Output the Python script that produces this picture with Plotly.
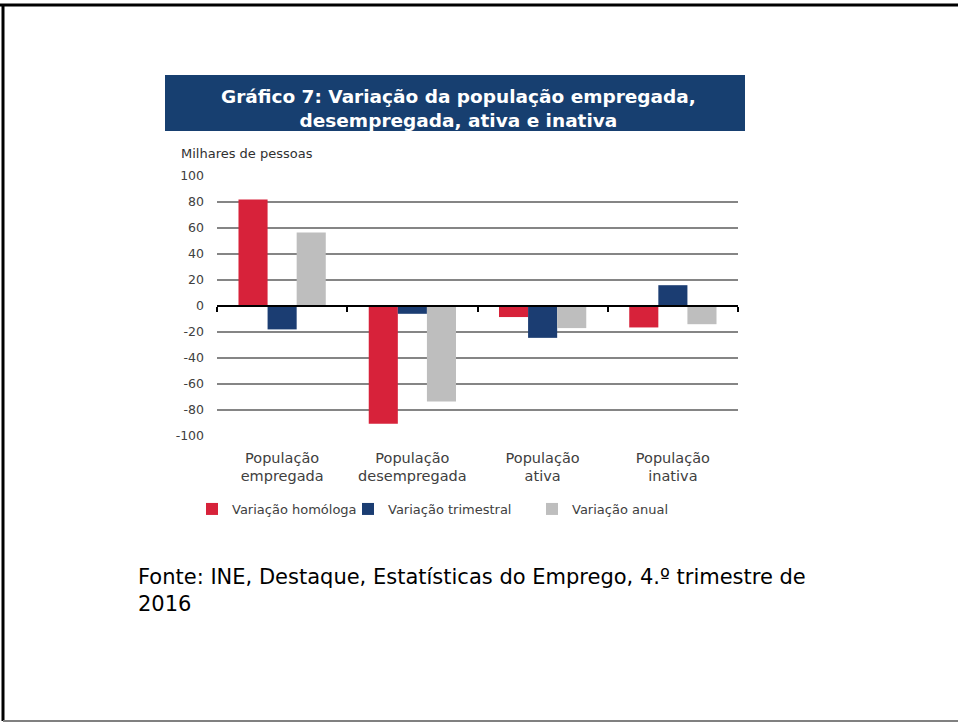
import plotly.graph_objects as go

categories = ["População<br>empregada", "População<br>desempregada", "População<br>ativa", "População<br>inativa"]
series_names = ["Variação homóloga", "Variação trimestral", "Variação anual"]
homologa = [82, -90.5, -8.5, -16.5]
trimestral = [-18, -6, -24.5, 16]
anual = [56.5, -73.5, -17, -14]
y_ticks = [100, 80, 60, 40, 20, 0, -20, -40, -60, -80, -100]
y_tick_labels = ["100", "80", "60", "40", "20", "0", "-20", "-40", "-60", "-80", "-100"]

colors = ["#d7223a", "#1b3d72", "#bebebe"]

W, H = 958, 723
L, R, T, B = 217, 738, 176, 436  # plot area in px

def px(x):
    return (x - L) / (R - L)

def py(y):
    return (B - y) / (B - T)

legend_ids = ["legend", "legend2", "legend3"]
legend_text_x = [232, 388, 572]

fig = go.Figure()
for name, vals, c, lg in zip(series_names, [homologa, trimestral, anual], colors, legend_ids):
    fig.add_trace(go.Bar(x=categories, y=vals, name=name, marker=dict(color=c, line=dict(width=0)),
                         xaxis="x", yaxis="y", legend=lg))

# helper trace for the zero axis with boundary ticks
fig.add_trace(go.Scatter(x=categories, y=[0] * len(categories), mode="lines", line=dict(width=0),
                         showlegend=False, hoverinfo="skip", xaxis="x2", yaxis="y"))

font_main = "DejaVu Sans, Verdana, sans-serif"

legend_style = dict(orientation="h", yanchor="middle", xanchor="left", y=py(509),
                    font=dict(size=13, color="#404040"), itemwidth=30,
                    bgcolor="rgba(0,0,0,0)")

fig.update_layout(
    width=W, height=H,
    margin=dict(l=L, r=W - R, t=T, b=H - B, pad=0),
    paper_bgcolor="white", plot_bgcolor="white",
    barmode="group", bargap=0.33, bargroupgap=0,
    font=dict(family=font_main, size=13, color="#404040"),
    xaxis=dict(type="category", categoryorder="array", categoryarray=categories,
               showgrid=False, showline=False, zeroline=False, ticks="",
               tickfont=dict(size=14.5, color="#404040"), ticklabelstandoff=11),
    xaxis2=dict(type="category", categoryorder="array", categoryarray=categories,
                overlaying="x", matches="x", anchor="free", position=py(B - (B - T) / 2),
                showline=True, linecolor="black", linewidth=1.5,
                ticks="outside", tickson="boundaries", ticklen=5, tickwidth=1.5, tickcolor="black",
                showticklabels=False, showgrid=False, zeroline=False),
    yaxis=dict(range=[-100, 100], tickvals=y_ticks, ticktext=y_tick_labels,
               showgrid=True, gridcolor="#858585", gridwidth=1.5,
               zeroline=False, showline=False, ticks="",
               tickfont=dict(size=12.5, color="#404040"), ticklabelstandoff=12),
    showlegend=True,
    legend=dict(legend_style, x=px(legend_text_x[0] - 40)),
    legend2=dict(legend_style, x=px(legend_text_x[1] - 40)),
    legend3=dict(legend_style, x=px(legend_text_x[2] - 40)),
)

shapes = []
# title box
shapes.append(dict(type="rect", xref="paper", yref="paper", x0=px(165), x1=px(745), y0=py(131), y1=py(75),
                   fillcolor="#173f70", line=dict(width=0), layer="below"))
# slide frame
shapes.append(dict(type="line", xref="paper", yref="paper", x0=px(0), x1=px(958), y0=py(5), y1=py(5),
                   line=dict(color="black", width=3)))
shapes.append(dict(type="line", xref="paper", yref="paper", x0=px(3), x1=px(3), y0=py(5), y1=py(721),
                   line=dict(color="black", width=3)))
shapes.append(dict(type="line", xref="paper", yref="paper", x0=px(3), x1=px(958), y0=py(721), y1=py(721),
                   line=dict(color="#808080", width=2)))
fig.update_layout(shapes=shapes)

annotations = [
    dict(text="<b>Gráfico 7: Variação da população empregada,<br>desempregada, ativa e inativa</b>",
         xref="paper", yref="paper", x=px(458), y=py(108), xanchor="center", yanchor="middle",
         showarrow=False, font=dict(family=font_main, size=18.5, color="white"), align="center"),
    dict(text="Milhares de pessoas", xref="paper", yref="paper", x=px(179), y=py(153),
         xanchor="left", yanchor="middle", showarrow=False,
         font=dict(family=font_main, size=13, color="#303030")),
    dict(text="Fonte: INE, Destaque, Estatísticas do Emprego, 4.º trimestre de<br>2016",
         xref="paper", yref="paper", x=px(136), y=py(590), xanchor="left", yanchor="middle",
         showarrow=False, align="left", font=dict(family=font_main, size=21, color="black")),
]
fig.update_layout(annotations=annotations)

fig.write_html("out.html", config={"displayModeBar": False},
               post_script="document.body.style.margin='0';document.body.style.overflow='hidden';")
